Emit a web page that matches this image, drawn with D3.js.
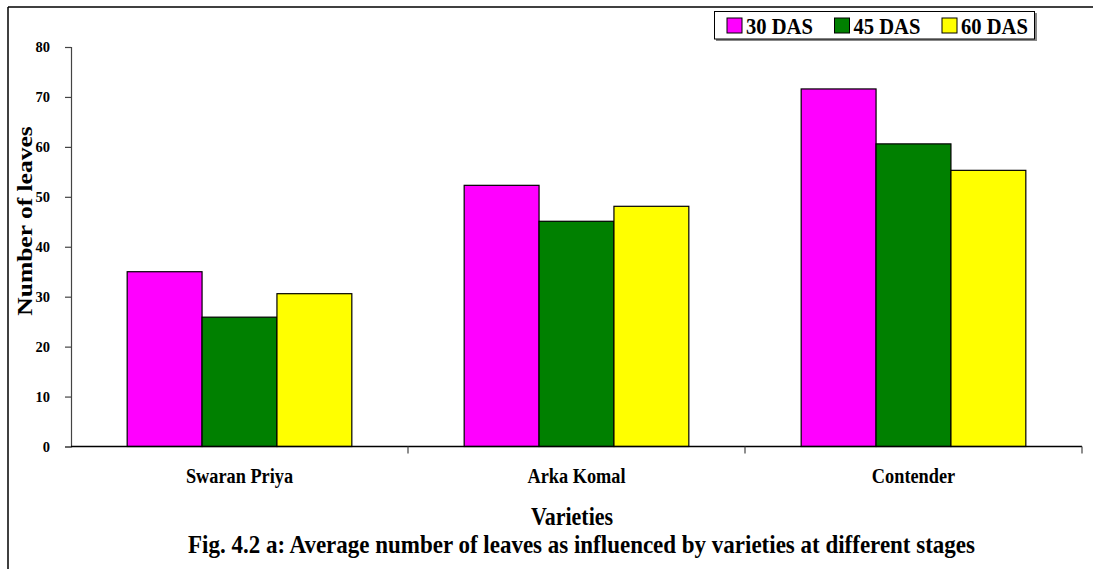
<!DOCTYPE html>
<html>
<head>
<meta charset="utf-8">
<script src="https://cdn.jsdelivr.net/npm/d3@7"></script>
<style>
  html, body { margin: 0; padding: 0; background: #fff; }
  svg { display: block; }
  text { font-family: "Liberation Serif", "Times New Roman", serif; font-weight: bold; fill: #000; }
</style>
</head>
<body>
<svg id="chart" width="1093" height="569"></svg>
<script>
const categories = ["Swaran Priya", "Arka Komal", "Contender"];
const seriesNames = ["30 DAS", "45 DAS", "60 DAS"];
const das30 = [35.0, 52.3, 71.6];
const das45 = [25.9, 45.1, 60.6];
const das60 = [30.6, 48.1, 55.3];
const seriesValues = [das30, das45, das60];
const seriesColors = ["#FF00FF", "#008000", "#FFFF00"];
const yTicks = [0, 10, 20, 30, 40, 50, 60, 70, 80];
const xTitle = "Varieties";
const yTitle = "Number of leaves";
const caption = "Fig. 4.2 a: Average number of leaves as influenced by varieties at different stages";

const FONT = '"Liberation Serif", "Times New Roman", serif';
const svg = d3.select("#chart");
const STRETCH = 1.1;

function stretchedText(g, x, y, str, size, anchor) {
  return g.append("text")
    .attr("transform", `translate(${x},${y}) scale(1,${STRETCH})`)
    .attr("text-anchor", anchor || "middle")
    .style("font-family", FONT).style("font-weight", "bold")
    .style("font-size", size + "px")
    .text(str);
}

// outer frame (left and top lines)
svg.append("line").attr("x1", 8).attr("y1", 7).attr("x2", 1093).attr("y2", 7)
  .attr("stroke", "#000").attr("stroke-width", 1.5);
svg.append("line").attr("x1", 8).attr("y1", 7).attr("x2", 8).attr("y2", 569)
  .attr("stroke", "#000").attr("stroke-width", 1.5);

const x0 = d3.scaleBand().domain(categories).range([71, 1082]).paddingInner(0).paddingOuter(0);
const bw = x0.bandwidth();
const x1 = d3.scaleBand().domain(seriesNames).range([bw / 6, bw * 5 / 6]).padding(0);
const y = d3.scaleLinear().domain([0, 80]).range([446.5, 47]);

// bars
const rows = [];
categories.forEach((c, ci) => {
  seriesNames.forEach((s, si) => {
    rows.push({ cat: c, ser: s, val: seriesValues[si][ci], color: seriesColors[si] });
  });
});
svg.append("g").selectAll("rect").data(rows).join("rect")
  .attr("x", d => x0(d.cat) + x1(d.ser))
  .attr("y", d => y(d.val))
  .attr("width", x1.bandwidth())
  .attr("height", d => y(0) - y(d.val))
  .attr("fill", d => d.color)
  .attr("stroke", "#000")
  .attr("stroke-width", 1.2);

// y axis
const yAxis = svg.append("g").attr("transform", "translate(71,0)")
  .attr("font-family", FONT).attr("font-size", 14)
  .call(d3.axisLeft(y).tickValues(yTicks).tickSize(6).tickPadding(15).tickFormat(d3.format("d")));
yAxis.select(".domain").attr("stroke", "#444").attr("stroke-width", 1.2);
yAxis.selectAll(".tick line").attr("stroke", "#444").attr("stroke-width", 1.2);
yAxis.selectAll(".tick text")
  .attr("fill", "#000")
  .style("font-family", FONT)
  .style("font-weight", "bold").style("font-size", "14.5px");

// x axis line and boundary ticks
svg.append("line").attr("x1", x0.range()[0]).attr("x2", x0.range()[1])
  .attr("y1", y(0)).attr("y2", y(0)).attr("stroke", "#000").attr("stroke-width", 1.5);
const bounds = categories.map(c => x0(c)).concat([x0.range()[1]]);
svg.append("g").selectAll("line").data(bounds.slice(1)).join("line")
  .attr("x1", d => d).attr("x2", d => d)
  .attr("y1", y(0)).attr("y2", y(0) + 7)
  .attr("stroke", "#444").attr("stroke-width", 1.2);

// category labels
const catG = svg.append("g");
categories.forEach(c => stretchedText(catG, x0(c) + bw / 2, 483, c, 18.3));

// axis titles
stretchedText(svg, 572, 525, xTitle, 22);
svg.append("text")
  .attr("transform", `translate(32,${221}) rotate(-90) scale(1.215,1)`)
  .attr("text-anchor", "middle")
  .style("font-family", FONT).style("font-weight", "bold")
  .style("font-size", "21px")
  .text(yTitle);

// caption
stretchedText(svg, 581.5, 553, caption, 23);

// legend
const lg = svg.append("g");
lg.append("rect").attr("x", 716).attr("y", 13).attr("width", 321).attr("height", 28)
  .attr("fill", "#888");
lg.append("rect").attr("x", 714.5).attr("y", 11.5).attr("width", 320).attr("height", 27.5)
  .attr("fill", "#fff").attr("stroke", "#000").attr("stroke-width", 1);
const lx = d3.scaleBand().domain(seriesNames).range([727, 727 + 107.5 * 3]);
seriesNames.forEach((s, i) => {
  lg.append("rect").attr("x", lx(s)).attr("y", 18).attr("width", 15).attr("height", 15)
    .attr("fill", seriesColors[i]).attr("stroke", "#000").attr("stroke-width", 1);
  stretchedText(lg, lx(s) + 19, 34, s, 20.6, "start");
});
</script>
</body>
</html>
